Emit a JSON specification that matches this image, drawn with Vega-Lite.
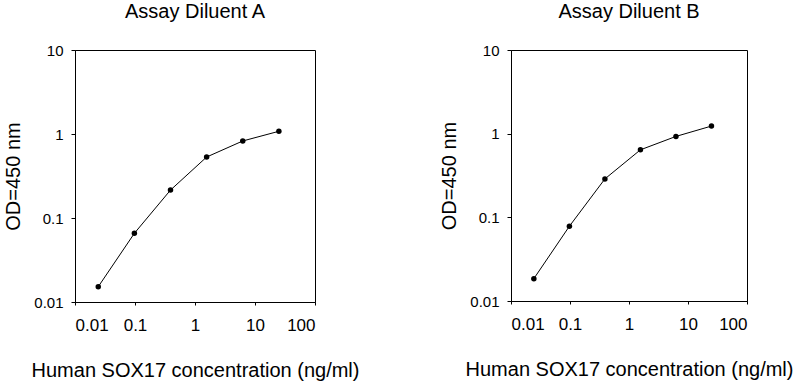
{
  "$schema": "https://vega.github.io/schema/vega-lite/v6.json",
  "background": "white",
  "padding": {"left": 3, "top": 1, "right": 5, "bottom": 2},
  "data": {"values": [
    {"panel": "A", "conc": 0.0244, "od": 0.0152},
    {"panel": "A", "conc": 0.0977, "od": 0.0658},
    {"panel": "A", "conc": 0.3906, "od": 0.215},
    {"panel": "A", "conc": 1.5625, "od": 0.532},
    {"panel": "A", "conc": 6.25, "od": 0.826},
    {"panel": "A", "conc": 25, "od": 1.077},
    {"panel": "B", "conc": 0.0244, "od": 0.0185},
    {"panel": "B", "conc": 0.0977, "od": 0.0783},
    {"panel": "B", "conc": 0.3906, "od": 0.288},
    {"panel": "B", "conc": 1.5625, "od": 0.641},
    {"panel": "B", "conc": 6.25, "od": 0.927},
    {"panel": "B", "conc": 25, "od": 1.233}
  ]},
  "config": {
    "font": "Liberation Sans",
    "view": {"stroke": "black", "strokeWidth": 1},
    "axis": {
      "grid": false,
      "domainColor": "black",
      "tickColor": "black",
      "labelColor": "black",
      "titleColor": "black",
      "labelFont": "Liberation Sans",
      "titleFont": "Liberation Sans",
      "titleFontSize": 20,
      "titleFontWeight": "normal"
    },
    "title": {"font": "Liberation Sans", "fontSize": 20, "fontWeight": "normal", "color": "black", "offset": 21}
  },
  "spacing": 79,
  "hconcat": [
    {
      "title": "Assay Diluent A",
      "width": 240,
      "height": 252,
      "transform": [{"filter": "datum.panel === 'A'"}],
      "encoding": {
        "x": {"field": "conc", "type": "quantitative",
              "scale": {"type": "log", "domain": [0.01, 100]},
              "axis": {"values": [0.01, 0.1, 1, 10, 100], "format": "~g", "labelFontSize": 17, "tickSize": 3, "labelPadding": 12, "title": "Human SOX17 concentration (ng/ml)", "titlePadding": 27}},
        "y": {"field": "od", "type": "quantitative",
              "scale": {"type": "log", "domain": [0.01, 10]},
              "axis": {"values": [0.01, 0.1, 1, 10], "format": "~g", "labelFontSize": 15, "tickSize": 4, "labelPadding": 8, "title": "OD=450 nm", "titlePadding": 10}}
      },
      "layer": [
        {"mark": {"type": "line", "color": "black", "strokeWidth": 1}},
        {"mark": {"type": "point", "filled": true, "color": "black", "opacity": 1, "size": 30}}
      ]
    },
    {
      "title": "Assay Diluent B",
      "width": 236,
      "height": 251,
      "transform": [{"filter": "datum.panel === 'B'"}],
      "encoding": {
        "x": {"field": "conc", "type": "quantitative",
              "scale": {"type": "log", "domain": [0.01, 100]},
              "axis": {"values": [0.01, 0.1, 1, 10, 100], "format": "~g", "labelFontSize": 17, "tickSize": 3, "labelPadding": 12, "title": "Human SOX17 concentration (ng/ml)", "titlePadding": 27}},
        "y": {"field": "od", "type": "quantitative",
              "scale": {"type": "log", "domain": [0.01, 10]},
              "axis": {"values": [0.01, 0.1, 1, 10], "format": "~g", "labelFontSize": 15, "tickSize": 4, "labelPadding": 8, "title": "OD=450 nm", "titlePadding": 10}}
      },
      "layer": [
        {"mark": {"type": "line", "color": "black", "strokeWidth": 1}},
        {"mark": {"type": "point", "filled": true, "color": "black", "opacity": 1, "size": 30}}
      ]
    }
  ]
}
